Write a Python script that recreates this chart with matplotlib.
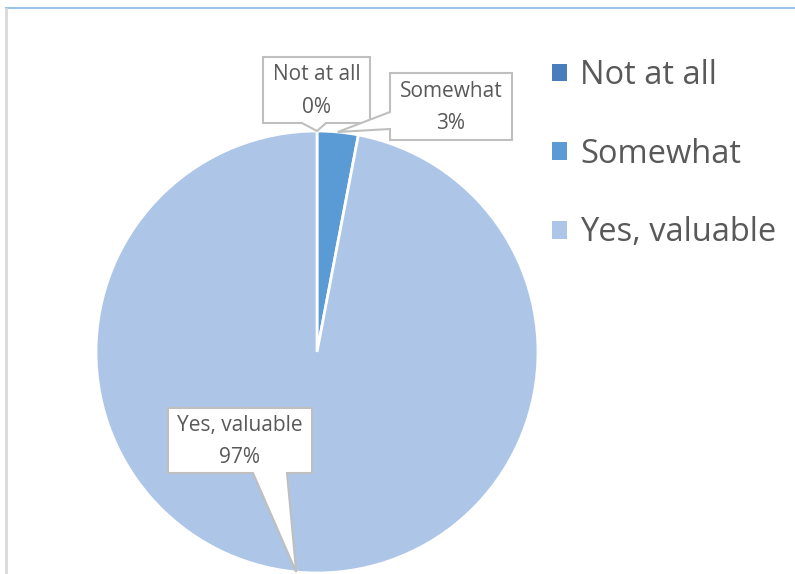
import numpy as np
import matplotlib
matplotlib.use("Agg")
import matplotlib.pyplot as plt
from matplotlib.patches import Patch, Polygon
from matplotlib.lines import Line2D

# data
categories = ["Not at all", "Somewhat", "Yes, valuable"]
values = [0, 3, 97]
pct_labels = ["0%", "3%", "97%"]
colors = ["#4A7EBB", "#5B9BD5", "#ADC5E6"]

plt.rcParams["font.family"] = ["Open Sans", "DejaVu Sans"]
text_color = "#595959"

W, H = 795, 574
fig = plt.figure(figsize=(W / 100, H / 100), dpi=100)

cx, cy, r = 317, 352, 221
ax = fig.add_axes([(cx - r) / W, (H - cy - r) / H, 2 * r / W, 2 * r / H])

wedges, _ = ax.pie(values, colors=colors, startangle=90, counterclock=False,
                   radius=1, wedgeprops={"edgecolor": "white", "linewidth": 2})
ax.set_xlim(-1, 1)
ax.set_ylim(-1, 1)
ax.axis("off")


def px(x, y):
    # image pixel -> pie data units
    return ((x - cx) / r, (cy - y) / r)


# callout boxes in image pixels: left, top, right, bottom, pointer side, base span
boxes = [
    (263, 57, 370, 123, "bottom", (302, 326)),
    (390, 73, 512, 140, "left", (112, 129)),
    (168, 408, 312, 473, "bottom", (253, 287)),
]

for w, cat, pct, (l, t, rr, b, side, base) in zip(wedges, categories, pct_labels, boxes):
    mid = np.deg2rad((w.theta1 + w.theta2) / 2)
    tip = (np.cos(mid), np.sin(mid))
    if side == "bottom":
        pts = [px(l, t), px(rr, t), px(rr, b), px(base[1], b), tip, px(base[0], b), px(l, b)]
    else:
        pts = [px(l, t), px(rr, t), px(rr, b), px(l, b), px(l, base[1]), tip, px(l, base[0])]
    ax.add_patch(Polygon(pts, closed=True, fc="white", ec="#BFBFBF", lw=1.5,
                         clip_on=False, zorder=3, joinstyle="miter"))
    tx, ty = px((l + rr) / 2, (t + b) / 2 + 1)
    ax.text(tx, ty, cat + "\n" + pct, ha="center", va="center", fontsize=15,
            color=text_color, linespacing=1.7, zorder=4, clip_on=False)

handles = [Patch(facecolor=c, edgecolor="none") for c in colors]
fig.legend(handles, categories, loc="upper left", bbox_to_anchor=(552 / W, 1 - 59 / H),
           frameon=False, fontsize=23.5, labelcolor=text_color,
           borderpad=0, borderaxespad=0,
           handlelength=0.46, handleheight=0.46, handletextpad=0.4, labelspacing=1.4)

# chart frame edges
fig.add_artist(Line2D([6 / W, 1], [1 - 8 / H, 1 - 8 / H], color="#9DC3E6", lw=1.5))
fig.add_artist(Line2D([6 / W, 6 / W], [0, 1 - 9 / H], color="#D9D9D9", lw=2))

fig.savefig("out.png", dpi=100)
